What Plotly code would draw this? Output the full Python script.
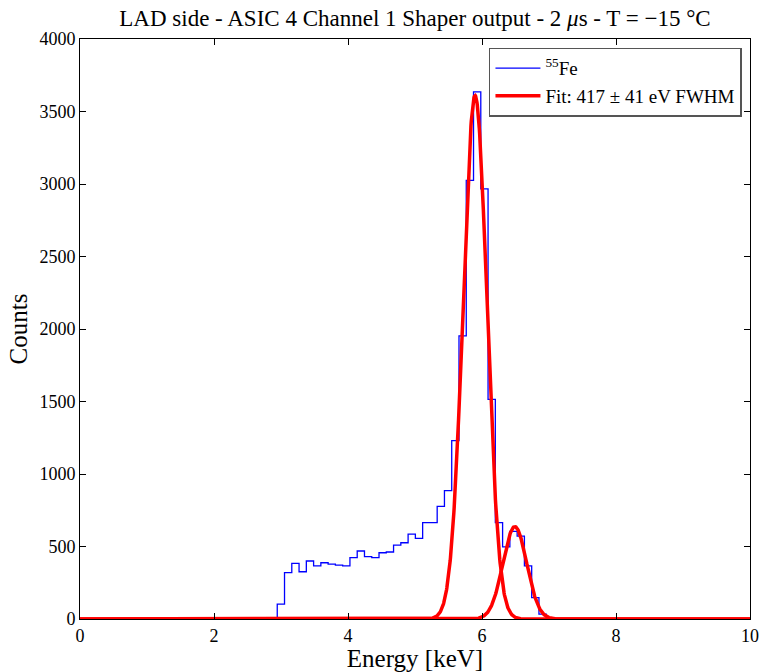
import numpy as np
import plotly.graph_objects as go

# ---- data ----
bin_start_kev = 2.944      # left edge of the first non-empty bin
bin_width_kev = 0.1085
counts = [103, 320, 384, 326, 400, 366, 388, 379, 372, 366,
          423, 469, 430, 423, 457, 462, 510, 526, 586, 556,
          664, 664, 777, 885, 1230, 1952, 3025, 3635, 2966, 1515,
          664, 497, 605, 572, 366, 147, 34]

# Gaussian fit components (amplitude, mean keV, sigma keV)
fit_ka = (3610, 5.896, 0.177)
fit_kb = (637, 6.49, 0.177)

x_range = [0, 10]
y_range = [0, 4000]
x_ticks = [0, 2, 4, 6, 8, 10]
y_ticks = [0, 500, 1000, 1500, 2000, 2500, 3000, 3500, 4000]

title = "LAD side - ASIC 4 Channel 1 Shaper output - 2 <i>μ</i>s - T = −15 °C"
hist_name = "<sup>55</sup>Fe"
fit_name = "Fit: 417 ± 41 eV FWHM"

# ---- build histogram step line ----
n = len(counts)
edges = bin_start_kev + bin_width_kev * np.arange(n + 1)
hx = [x_range[0]] + list(edges) + [x_range[1]]
hy = [0] + list(counts) + [0, 0]

xf = np.linspace(x_range[0], x_range[1], 2001)
def gauss(p):
    a, m, s = p
    return a * np.exp(-0.5 * ((xf - m) / s) ** 2)

font_family = "Liberation Serif, DejaVu Serif, serif"

fig = go.Figure()
fig.add_trace(go.Scatter(x=hx, y=hy, mode="lines", line_shape="hv",
                         line=dict(color="#0000ff", width=1.3),
                         name=hist_name))
fig.add_trace(go.Scatter(x=xf, y=gauss(fit_ka), mode="lines",
                         line=dict(color="#ff0000", width=3.5),
                         name=fit_name, legendgroup="fit"))
fig.add_trace(go.Scatter(x=xf, y=gauss(fit_kb), mode="lines",
                         line=dict(color="#ff0000", width=3.5),
                         name=fit_name, legendgroup="fit", showlegend=False))

axis_common = dict(showline=True, linecolor="black", linewidth=1,
                   mirror="ticks", ticks="inside", ticklen=6,
                   tickcolor="black", showgrid=False, zeroline=False,
                   automargin=False,
                   tickfont=dict(family=font_family, size=18, color="black"))

fig.update_layout(
    width=761, height=672,
    margin=dict(l=80, r=11, t=39, b=53, autoexpand=False),
    paper_bgcolor="white", plot_bgcolor="white",
    title=dict(text=title, xref="paper", x=0.5, xanchor="center",
               y=0.973, yanchor="middle",
               font=dict(family=font_family, size=23, color="black")),
    xaxis=dict(range=x_range, tickvals=x_ticks, **axis_common,
               title=dict(text="Energy [keV]", standoff=0,
                          font=dict(family=font_family, size=25, color="black"))),
    yaxis=dict(range=y_range, tickvals=y_ticks, **axis_common,
               title=dict(text="Counts", standoff=4,
                          font=dict(family=font_family, size=25, color="black"))),
    legend=dict(x=0.988, xanchor="right", y=0.985, yanchor="top",
                bgcolor="white", bordercolor="#555555", borderwidth=1.5,
                font=dict(family=font_family, size=19, color="black"),
                itemwidth=45, tracegroupgap=0),
    showlegend=True,
)

fig.write_html("out.html",
               config={"displayModeBar": False},
               post_script="document.body.style.margin='0px';")
